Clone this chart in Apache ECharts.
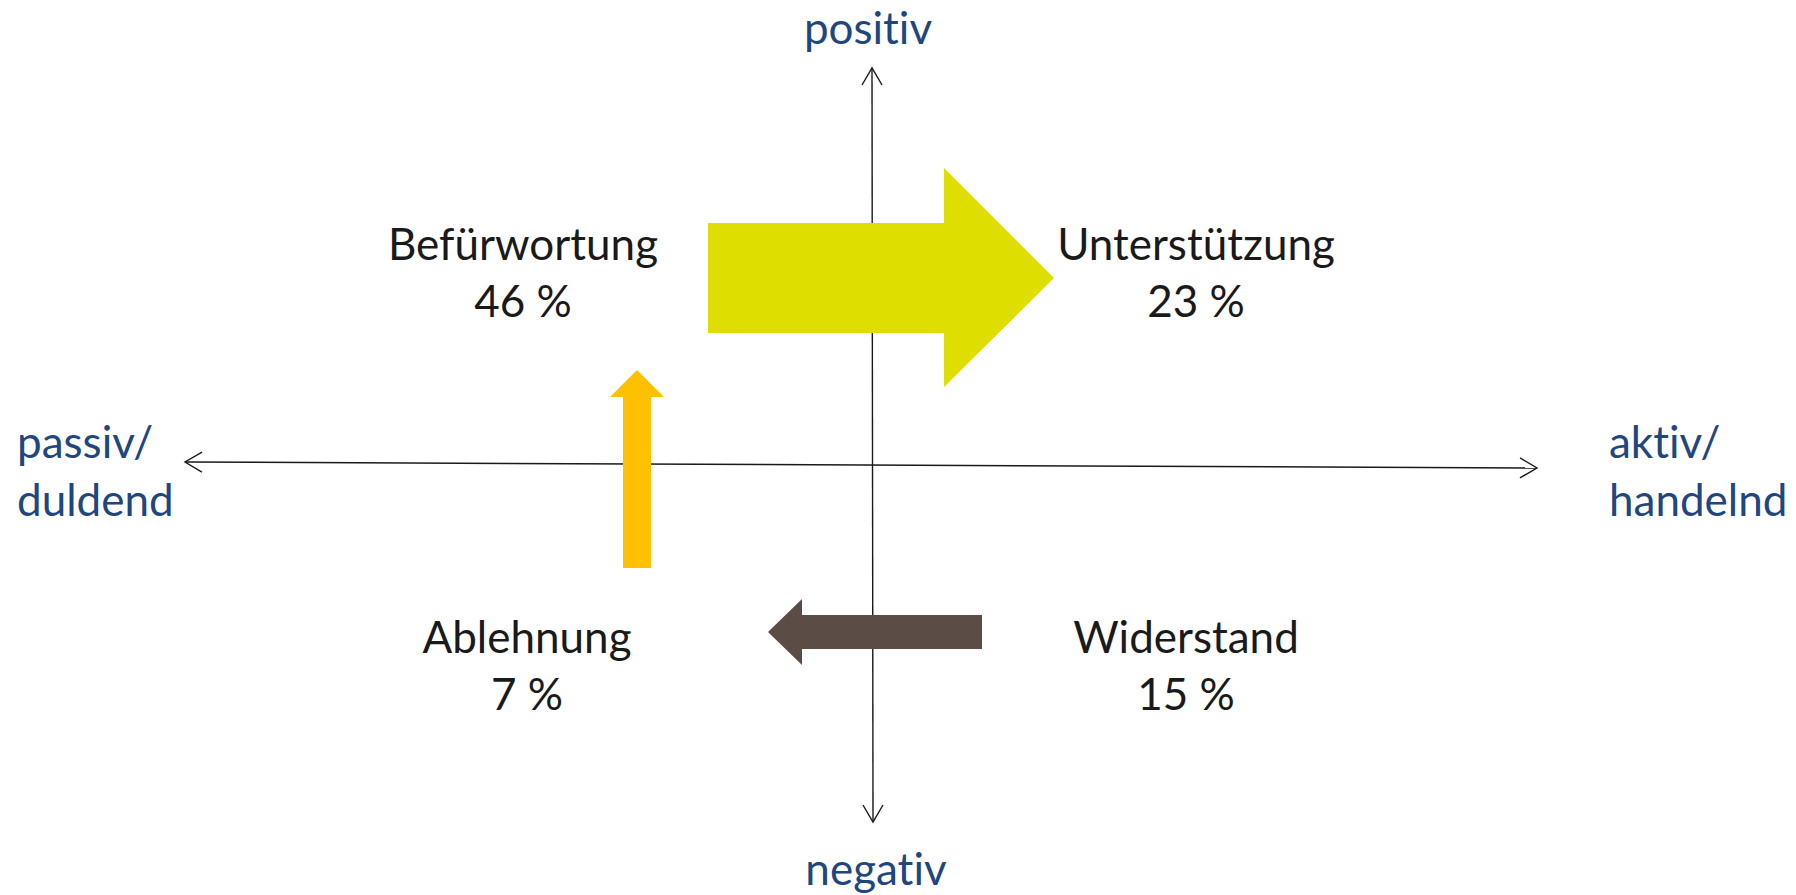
<!DOCTYPE html>
<html><head><meta charset="utf-8">
<script src="https://cdn.jsdelivr.net/npm/echarts@6/dist/echarts.min.js"></script>
<style>html,body{margin:0;padding:0;background:#fff}#c{width:1796px;height:895px}
#c text, #c tspan{font-variant-ligatures:none !important;font-feature-settings:"liga" 0,"clig" 0,"calt" 0,"dlig" 0 !important;}</style>
</head><body><div id="c"></div>
<script>
// ---- data ----
const categories = ['Befürwortung', 'Unterstützung', 'Ablehnung', 'Widerstand'];
const shares = [46, 23, 7, 15];
const dimensionLabels = ['positiv', 'negativ', 'passiv/\nduldend', 'aktiv/\nhandelnd'];
const flows = [['Befürwortung', 'Unterstützung'], ['Ablehnung', 'Befürwortung'], ['Widerstand', 'Ablehnung']];

// ---- layout (chart units) ----
const W = 1796, H = 895;
const FONT = 'Lato, "Open Sans", sans-serif';
const FS = 44;
const quadrantCentre = { 'Befürwortung': [523, 243], 'Unterstützung': [1196, 243], 'Ablehnung': [527, 636], 'Widerstand': [1186, 636] };
const dimensionPos = [[868, 27, 'center'], [876, 868, 'center'], [17, 470, 'left'], [1609, 470, 'left']];
const axisSegments = [[873, 822, 872, 68], [185, 462, 1537, 468]]; // both ends arrowed
const flowShapes = [
  [[708, 223], [944, 223], [944, 168], [1054, 278], [944, 387], [944, 333], [708, 333]],
  [[623, 568], [623, 397], [610, 397], [637, 370], [664, 397], [651, 397], [651, 568]],
  [[982, 615], [802, 615], [802, 599], [768, 632], [802, 665], [802, 649], [982, 649]]
];
const flowColors = ['#DEDE00', '#FFC000', '#5B4D45'];

const chart = echarts.init(document.getElementById('c'), null, { renderer: 'svg' });

function chevron(api, tip, from) {
  const t = api.coord(tip), f = api.coord(from);
  const dx = f[0] - t[0], dy = f[1] - t[1];
  const L = Math.hypot(dx, dy), ux = dx / L, uy = dy / L;
  const back = 17, half = 10;
  const b = [t[0] + ux * back, t[1] + uy * back];
  return [[b[0] - uy * half, b[1] + ux * half], t, [b[0] + uy * half, b[1] - ux * half]];
}

chart.setOption({
  animation: false,
  backgroundColor: '#fff',
  grid: { left: 0, right: 0, top: 0, bottom: 0 },
  xAxis: { type: 'value', min: 0, max: W, show: false },
  yAxis: { type: 'value', min: 0, max: H, inverse: true, show: false },
  series: [
    {
      type: 'custom', name: 'axes', silent: true,
      data: axisSegments,
      renderItem: function (params, api) {
        const s = axisSegments[params.dataIndex];
        const a = [s[0], s[1]], b = [s[2], s[3]];
        const style = { stroke: '#1a1a1a', lineWidth: 1.4, fill: null };
        return {
          type: 'group', children: [
            { type: 'polyline', shape: { points: [api.coord(a), api.coord(b)] }, style: style },
            { type: 'polyline', shape: { points: chevron(api, b, a) }, style: style },
            { type: 'polyline', shape: { points: chevron(api, a, b) }, style: style }
          ]
        };
      }
    },
    {
      type: 'custom', name: 'flows', silent: true,
      data: flows.map(f => [categories.indexOf(f[0]), categories.indexOf(f[1])]),
      renderItem: function (params, api) {
        const pts = flowShapes[params.dataIndex].map(p => api.coord(p));
        return { type: 'polygon', shape: { points: pts }, style: { fill: flowColors[params.dataIndex] } };
      }
    },
    {
      type: 'custom', name: 'quadrants', silent: true, z: 5,
      data: categories.map((c, i) => [c, shares[i]]),
      renderItem: function (params, api) {
        const i = params.dataIndex;
        const p = api.coord(quadrantCentre[categories[i]]);
        return {
          type: 'group', children: [
            { type: 'text', x: p[0], y: p[1], style: { text: categories[i], font: FS + 'px ' + FONT, fill: '#1a1a1a', align: 'center', verticalAlign: 'middle' } },
            { type: 'text', x: p[0], y: p[1] + 57, style: { text: shares[i] + ' %', font: FS + 'px ' + FONT, fill: '#1a1a1a', align: 'center', verticalAlign: 'middle' } }
          ]
        };
      }
    },
    {
      type: 'custom', name: 'dimensions', silent: true, z: 5,
      data: dimensionLabels,
      renderItem: function (params, api) {
        const d = dimensionPos[params.dataIndex];
        const p = api.coord([d[0], d[1]]);
        return { type: 'text', x: p[0], y: p[1], style: { text: dimensionLabels[params.dataIndex], font: FS + 'px ' + FONT, fill: '#1F477E', align: d[2], verticalAlign: 'middle', lineHeight: 58 } };
      }
    }
  ]
});
</script></body></html>
